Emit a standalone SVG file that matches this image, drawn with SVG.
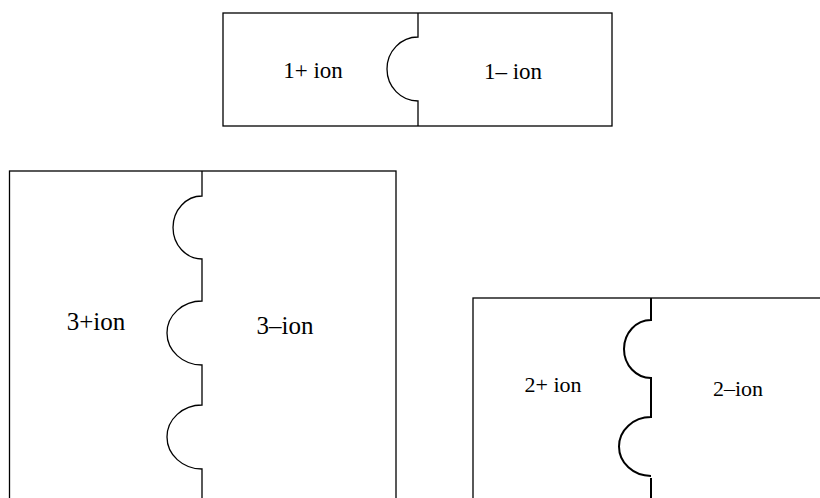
<svg xmlns="http://www.w3.org/2000/svg" width="820" height="498" viewBox="0 0 820 498">
<style>
.box{fill:#fff;stroke:#000;stroke-width:1.3}
.div{fill:none;stroke:#000;stroke-width:1.3}
.thick{stroke-width:2}
text{font-family:"Liberation Serif","Times New Roman",serif;fill:#000}
</style>
<rect width="820" height="498" fill="#fff"/>
<g id="node-1">
<rect class="box" x="223" y="13" width="389" height="113"/>
<text x="313" y="78" font-size="23" text-anchor="middle">1+ ion</text>
<text x="513" y="79" font-size="23" text-anchor="middle">1– ion</text>
</g>
<g id="node-3">
<rect class="box" x="9.5" y="171" width="386.5" height="340"/>
<text x="96" y="330" font-size="25" text-anchor="middle">3+ion</text>
<text x="285" y="334" font-size="25" text-anchor="middle">3–ion</text>
</g>
<g id="node-2">
<rect class="box" x="473" y="298" width="360" height="220"/>
<text x="553" y="392" font-size="22" text-anchor="middle">2+ ion</text>
<text x="738" y="396" font-size="22" text-anchor="middle">2–ion</text>
</g>
<g id="connectors">
<path class="div" d="M418,13 V37 A31,32 0 0,0 418,101 V126"/>
<path class="div" d="M202,171 V196 A29,31.5 0 0,0 202,259 V301 A35,32 0 0,0 202,365 V405 A35,32 0 0,0 202,469 V498"/>
<path class="div thick" d="M651,298 V320 A27,29 0 0,0 651,378 V417 A32,29.5 0 0,0 651,476 M651,478 V498"/>
</g>
</svg>
